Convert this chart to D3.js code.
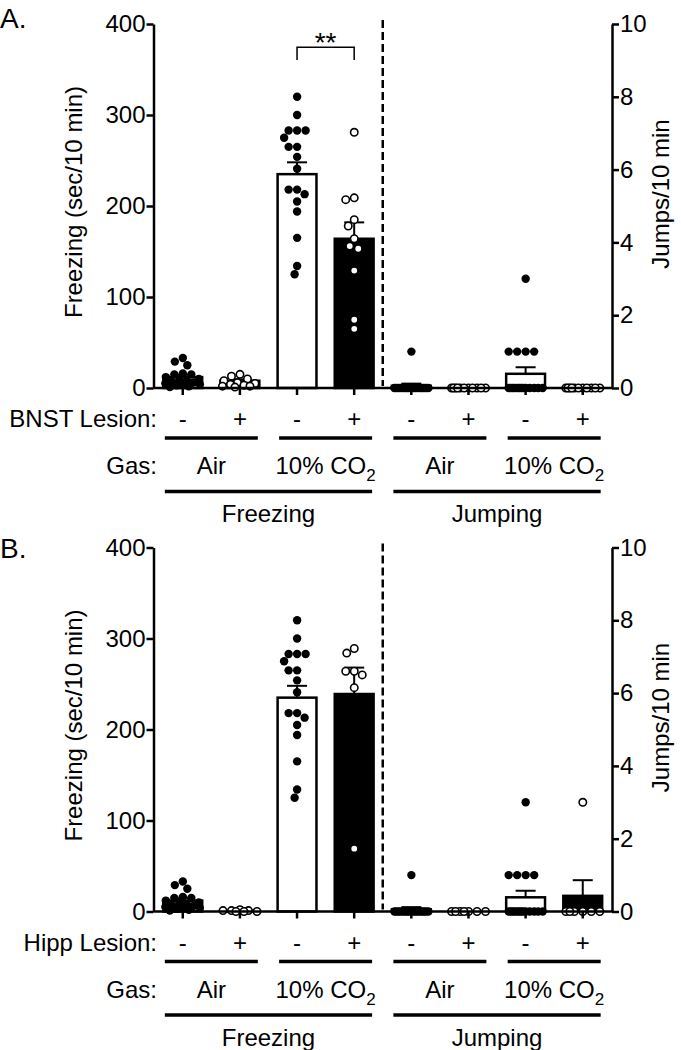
<!DOCTYPE html>
<html>
<head>
<meta charset="utf-8">
<script src="https://cdn.jsdelivr.net/npm/d3@7"></script>
<style>
  html, body { margin: 0; padding: 0; background: #fff; }
  svg { display: block; }
  text { font-family: "Liberation Sans", Arial, Helvetica, sans-serif; fill: #000; }
</style>
</head>
<body>
<svg id="chart" width="681" height="1050"></svg>
<script>
// ---------- data ----------
const lesionSigns = ["-", "+", "-", "+", "-", "+", "-", "+"];
const gasLabels = ["Air", "10% CO2", "Air", "10% CO2"];
const measureLabels = ["Freezing", "Jumping"];
const freezeTicks = [0, 100, 200, 300, 400];
const jumpTicks = [0, 2, 4, 6, 8, 10];
const panelLabels = ["A.", "B."];
const lesionNames = ["BNST Lesion:", "Hipp Lesion:"];

// control (no lesion) groups, shared by both panels
const ctrlAirFreeze = [33, 29, 25, 16, 15, 15, 12, 10, 9, 8, 7, 6, 5, 5, 4, 3, 2, 1];
const ctrlCO2Freeze = [320, 300, 283, 283, 283, 275, 265, 265, 254, 241, 218, 218, 213, 205, 194, 165, 134, 125];
const ctrlAirJump = [1, 0, 0, 0, 0, 0, 0, 0, 0, 0, 0, 0, 0, 0, 0, 0, 0, 0];
const ctrlCO2Jump = [3, 1, 1, 1, 1, 0, 0, 0, 0, 0, 0, 0, 0, 0, 0, 0, 0, 0];

// BNST lesion groups
const bnstAirFreeze = [15, 13, 10, 8, 6, 5, 4, 3, 2, 2, 1];
const bnstCO2Freeze = [281, 209, 207, 185, 178, 164, 156, 153, 129, 75, 65];
const bnstAirJump = [0, 0, 0, 0, 0, 0, 0, 0, 0, 0, 0];
const bnstCO2Jump = [0, 0, 0, 0, 0, 0, 0, 0, 0, 0, 0];

// Hippocampus lesion groups
const hippAirFreeze = [2, 1, 1, 0, 0, 1, 0];
const hippCO2Freeze = [289, 284, 264, 264, 260, 246, 69];
const hippAirJump = [0, 0, 0, 0, 0, 0, 0];
const hippCO2Jump = [3, 0, 0, 0, 0, 0, 0];

// bar means and SEM (order: ctrl Air, lesion Air, ctrl CO2, lesion CO2)
const bnstFreezeMeans = [12, 8, 235, 164];
const bnstFreezeSEM = [2.5, 1.5, 13, 18];
const bnstJumpMeans = [0.06, 0, 0.39, 0];
const bnstJumpSEM = [0.06, 0, 0.18, 0];

const hippFreezeMeans = [12, 0.7, 235, 239];
const hippFreezeSEM = [2.5, 0.3, 13, 29];
const hippJumpMeans = [0.06, 0, 0.39, 0.43];
const hippJumpSEM = [0.06, 0, 0.18, 0.43];

// ---------- layout ----------
const FS = 24;
const svg = d3.select("#chart");

const x = d3.scaleBand()
  .domain(d3.range(8))
  .range([153.5, 612])
  .paddingInner(0.32)
  .paddingOuter(0.172);
const bw = x.bandwidth();
const cx = i => x(i) + bw / 2;

const panels = [
  {
    label: panelLabels[0], lesion: lesionNames[0], yOff: 0, labelY: 18, sig: true,
    means: bnstFreezeMeans.concat(bnstJumpMeans),
    sems: bnstFreezeSEM.concat(bnstJumpSEM),
    pts: [ctrlAirFreeze, bnstAirFreeze, ctrlCO2Freeze, bnstCO2Freeze, ctrlAirJump, bnstAirJump, ctrlCO2Jump, bnstCO2Jump]
  },
  {
    label: panelLabels[1], lesion: lesionNames[1], yOff: 523.5, labelY: 548, sig: false,
    means: hippFreezeMeans.concat(hippJumpMeans),
    sems: hippFreezeSEM.concat(hippJumpSEM),
    pts: [ctrlAirFreeze, hippAirFreeze, ctrlCO2Freeze, hippCO2Freeze, ctrlAirJump, hippAirJump, ctrlCO2Jump, hippCO2Jump]
  }
];

// beeswarm-like placement, clamped to the bar width
function layoutPoints(vals, y, maxHalf, d2) {
  const items = vals.map(v => ({ v, y: y(v) })).sort((a, b) => a.y - b.y);
  const placed = [];
  const cands = d3.range(-maxHalf, maxHalf + 0.01, 0.5);
  items.forEach(it => {
    let best = null, bestFree = null;
    cands.forEach(dx => {
      let md = Infinity;
      placed.forEach(q => {
        const dd = Math.hypot(q.dx - dx, q.y - it.y);
        if (dd < md) md = dd;
      });
      if (md >= d2) {
        if (bestFree === null || Math.abs(dx) < Math.abs(bestFree)) bestFree = dx;
      }
      if (best === null || md > best.md + 1e-9) best = { dx, md };
    });
    it.dx = bestFree !== null ? bestFree : best.dx;
    placed.push(it);
  });
  return items;
}

panels.forEach(p => {
  const g = svg.append("g").attr("transform", `translate(0,${p.yOff})`);
  const yF = d3.scaleLinear().domain([0, 400]).range([388, 24]);
  const yJ = d3.scaleLinear().domain([0, 10]).range([388, 24]);
  const yOf = i => (i < 4 ? yF : yJ);

  // panel letter
  svg.append("text").attr("x", 0).attr("y", p.labelY + 10)
    .style("font-size", "28px").text(p.label);

  // dashed separator
  const sepX = (cx(3) + cx(4)) / 2;
  g.append("line").attr("x1", sepX).attr("x2", sepX)
    .attr("y1", yF(400) - 4).attr("y2", yF(0) - 2)
    .attr("stroke", "#000").attr("stroke-width", 2.5)
    .attr("stroke-dasharray", "8,4");

  // bars
  g.selectAll("rect.bar").data(p.means.map((m, i) => ({ m, i })).filter(d => d.m > 0))
    .enter().append("rect")
    .attr("x", d => x(d.i)).attr("width", bw)
    .attr("y", d => yOf(d.i)(d.m))
    .attr("height", d => yOf(d.i)(0) - yOf(d.i)(d.m))
    .attr("fill", d => (d.i % 2 ? "#000" : "#fff"))
    .attr("stroke", "#000").attr("stroke-width", 2.5);

  // error bars (upper only)
  p.sems.forEach((s, i) => {
    if (s <= 0) return;
    const y = yOf(i);
    g.append("line").attr("x1", cx(i)).attr("x2", cx(i))
      .attr("y1", y(p.means[i])).attr("y2", y(p.means[i] + s))
      .attr("stroke", "#000").attr("stroke-width", 2);
    g.append("line").attr("x1", cx(i) - 10).attr("x2", cx(i) + 10)
      .attr("y1", y(p.means[i] + s)).attr("y2", y(p.means[i] + s))
      .attr("stroke", "#000").attr("stroke-width", 2);
  });

  // points
  p.pts.forEach((vals, i) => {
    const items = layoutPoints(vals, yOf(i), bw / 2 - 2, 8.5);
    const open = i % 2 === 1;
    g.append("g").selectAll("circle").data(items).enter().append("circle")
      .attr("cx", d => cx(i) + d.dx).attr("cy", d => d.y)
      .attr("r", open ? 3.7 : 4.2)
      .attr("fill", open ? "#fff" : "#000")
      .attr("stroke", "#000").attr("stroke-width", open ? 1.6 : 0);
  });

  // axes
  const axL = g.append("g").attr("transform", "translate(153.5,0)")
    .call(d3.axisLeft(yF).tickValues(freezeTicks).tickSize(7).tickSizeOuter(0).tickPadding(1));
  const axR = g.append("g").attr("transform", "translate(612,0)")
    .call(d3.axisRight(yJ).tickValues(jumpTicks).tickSize(7).tickSizeOuter(0).tickPadding(1));
  const axB = g.append("g").attr("transform", "translate(0,388)")
    .call(d3.axisBottom(x).tickFormat("").tickSize(7).tickSizeOuter(0));
  [axL, axR, axB].forEach(a => {
    a.selectAll("path, line").attr("stroke", "#000").attr("stroke-width", 2.5);
    a.selectAll("text").style("font-size", FS + "px")
      .style("font-family", "'Liberation Sans', Arial, sans-serif").attr("fill", "#000");
  });
  axB.select("path.domain").attr("d", "M153.5,0H612");

  // axis titles
  g.append("text").attr("transform", `translate(82,202) rotate(-90)`)
    .attr("text-anchor", "middle").style("font-size", FS + "px")
    .text("Freezing (sec/10 min)");
  g.append("text").attr("transform", `translate(669,194) rotate(-90)`)
    .attr("text-anchor", "middle").style("font-size", FS + "px")
    .text("Jumps/10 min");

  // significance bracket
  if (p.sig) {
    const x1 = cx(2), x2 = cx(3);
    g.append("path").attr("d", `M${x1},60V47.3H${x2}V60`)
      .attr("fill", "none").attr("stroke", "#000").attr("stroke-width", 1.5);
    g.append("text").attr("x", (x1 + x2) / 2).attr("y", 52)
      .attr("text-anchor", "middle").style("font-size", "28px").text("**");
  }

  // lesion row
  g.append("text").attr("x", 157).attr("y", 427).attr("text-anchor", "end")
    .style("font-size", FS + "px").text(p.lesion);
  lesionSigns.forEach((s, i) => {
    g.append("text").attr("x", cx(i)).attr("y", 427).attr("text-anchor", "middle")
      .style("font-size", FS + "px").text(s);
  });

  // gas row
  g.append("text").attr("x", 157).attr("y", 474).attr("text-anchor", "end")
    .style("font-size", FS + "px").text("Gas:");
  gasLabels.forEach((lab, k) => {
    const c = (cx(2 * k) + cx(2 * k + 1)) / 2;
    g.append("line").attr("x1", c - 46.5).attr("x2", c + 46.5)
      .attr("y1", 438).attr("y2", 438).attr("stroke", "#000").attr("stroke-width", 3.5);
    const t = g.append("text").attr("x", c).attr("y", 474).attr("text-anchor", "middle")
      .style("font-size", FS + "px");
    if (lab.endsWith("CO2")) {
      t.append("tspan").text(lab.slice(0, -1));
      t.append("tspan").attr("dy", 7).style("font-size", "17px").text("2");
    } else {
      t.text(lab);
    }
  });

  // measure row
  measureLabels.forEach((lab, k) => {
    const cL = (cx(4 * k) + cx(4 * k + 1)) / 2 - 46.5;
    const cR = (cx(4 * k + 2) + cx(4 * k + 3)) / 2 + 46.5;
    g.append("line").attr("x1", cL).attr("x2", cR)
      .attr("y1", 491.5).attr("y2", 491.5).attr("stroke", "#000").attr("stroke-width", 3.5);
    g.append("text").attr("x", (cL + cR) / 2).attr("y", 522).attr("text-anchor", "middle")
      .style("font-size", FS + "px").text(lab);
  });
});
</script>
</body>
</html>
